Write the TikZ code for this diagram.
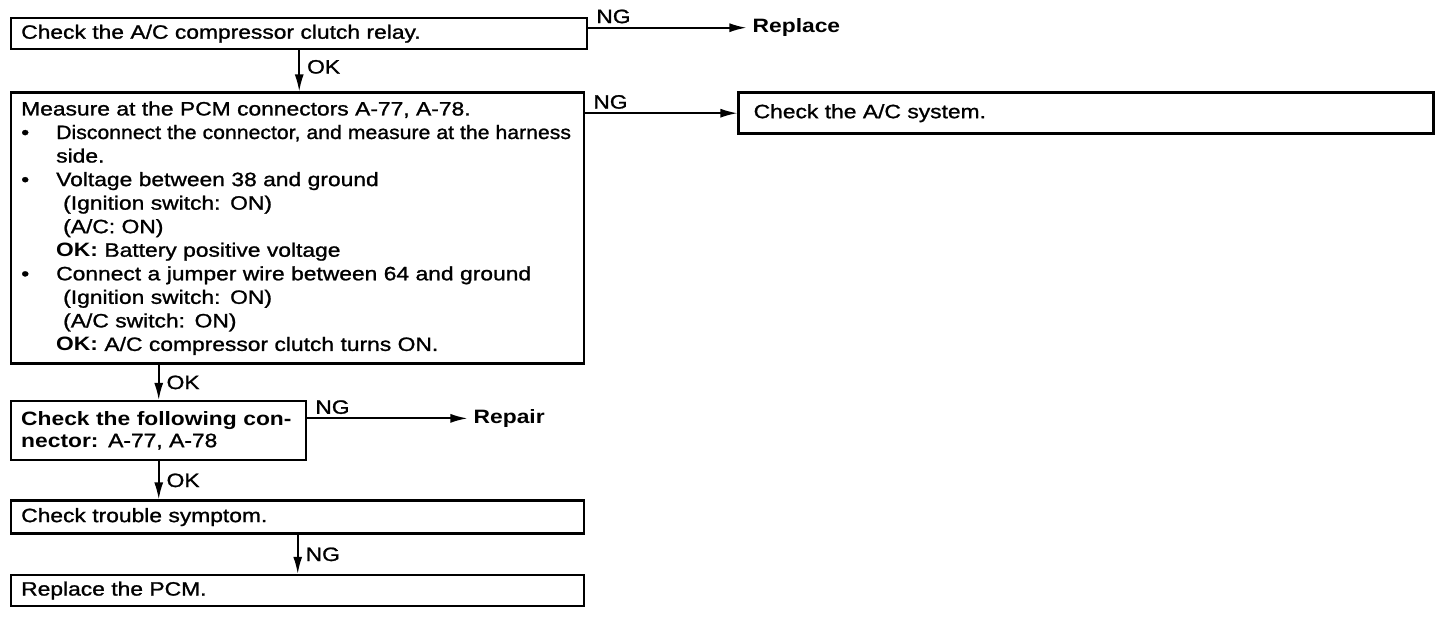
\documentclass[tikz,border=0pt]{standalone}
\usepackage{fontspec}
\usepackage{graphicx}
\setmainfont[FakeStretch=1.18,UprightFeatures={FakeBold=1.2}]{Liberation Sans}
\usetikzlibrary{arrows.meta,positioning,calc}

\begin{document}
\begin{tikzpicture}[>={Latex[length=3.4mm,width=1.8mm]},
  font=\fontsize{11}{12.2}\selectfont,
  box/.style={draw,line width=1.4pt,inner ysep=0pt,inner xsep=0.2cm,align=left,anchor=north west},
  flow/.style={->,line width=1pt},
  lbl/.style={inner sep=2pt,inner xsep=4pt}]
  \useasboundingbox (0,0) rectangle (28.8,-12.32);
  % main column
  \node[box,text width=11.12cm,minimum height=0.62cm] (relay) at (0.2,-0.34) {Check the A/C compressor clutch relay.};
  \node[box,text width=11.06cm,minimum height=5.42cm,font=\fontsize{11}{13.4}\selectfont,below=0.82cm of relay.south west,anchor=north west] (measure) {Measure at the PCM connectors A-77, A-78.\\
    \makebox[0.7cm][l]{\textbullet}\scalebox{0.93}[1]{Disconnect the connector, and measure at the harness}\\
    \hspace*{0.7cm}side.\\
    \makebox[0.7cm][l]{\textbullet}Voltage between 38 and ground\\
    \hspace*{0.84cm}(Ignition switch: ON)\\
    \hspace*{0.84cm}(A/C: ON)\\
    \hspace*{0.7cm}\textbf{OK:} Battery positive voltage\\
    \makebox[0.7cm][l]{\textbullet}Connect a jumper wire between 64 and ground\\
    \hspace*{0.84cm}(Ignition switch: ON)\\
    \hspace*{0.84cm}(A/C switch: ON)\\
    \hspace*{0.7cm}\textbf{OK:} A/C compressor clutch turns ON.};
  \node[box,text width=5.5cm,minimum height=1.18cm,below=0.7cm of measure.south west,anchor=north west] (connchk) {\makebox[5.5cm][s]{\textbf{Check the following con-}}\\\textbf{nector:} A-77, A-78};
  \node[box,text width=11.06cm,minimum height=0.66cm,below=0.76cm of connchk.south west,anchor=north west] (symptom) {Check trouble symptom.};
  \node[box,text width=11.06cm,minimum height=0.62cm,below=0.78cm of symptom.south west,anchor=north west] (replpcm) {Replace the PCM.};
  % right side
  \node[box,inner xsep=0.3cm,text width=13.3cm,minimum height=0.82cm,right=3.04cm of measure.north east,anchor=north west] (acsys) {Check the A/C system.};
  \coordinate (ngrelay) at ($(relay.north east)!0.32!(relay.south east)$);
  \coordinate (ngconn) at ($(connchk.north east)!0.3!(connchk.south east)$);
  \node[right=3.16cm of ngrelay,anchor=west] (replace) {\textbf{Replace}};
  \node[right=3.2cm of ngconn,anchor=west] (repair) {\textbf{Repair}};
  % connectors
  \draw[flow] (relay.south) -- node[lbl,right,pos=0.4] {OK} (relay.south |- measure.north);
  \draw[flow] (ngrelay) -- (replace.west) node[lbl,pos=0,above right] {NG};
  \draw[flow] (measure.east |- acsys.west) -- (acsys.west) node[lbl,pos=0,above right] {NG};
  \draw[flow] (connchk.north |- measure.south) -- node[lbl,right] {OK} (connchk.north);
  \draw[flow] (ngconn) -- (repair.west) node[lbl,pos=0,above right] {NG};
  \draw[flow] (connchk.south) -- node[lbl,right] {OK} (connchk.south |- symptom.north);
  \draw[flow] (symptom.south) -- node[lbl,right] {NG} (symptom.south |- replpcm.north);
\end{tikzpicture}
\end{document}
